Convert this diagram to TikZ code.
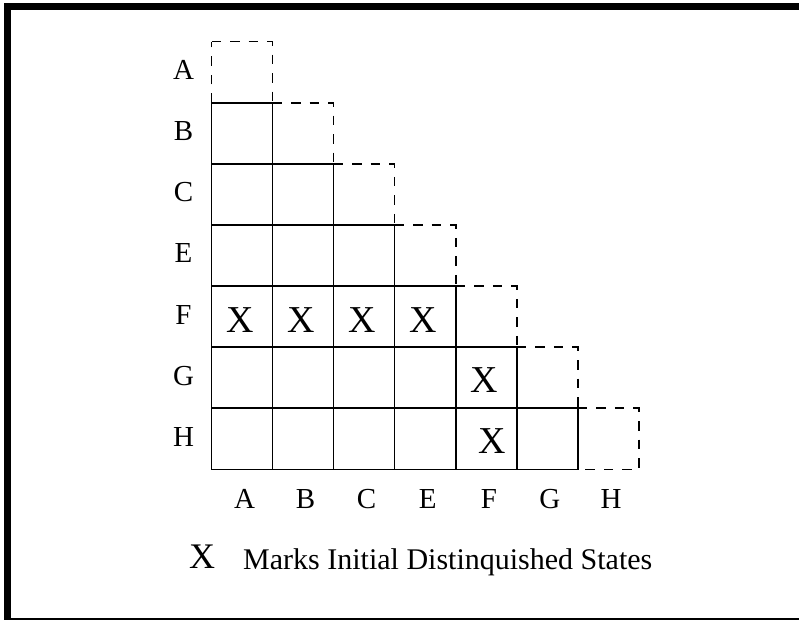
\documentclass[tikz,border=0pt]{standalone}
\usepackage{fontspec}
\setmainfont{Liberation Serif}
\newcommand{\lblsize}{\fontsize{29}{29}\selectfont}

\begin{document}
\begin{tikzpicture}[
  x=1pt, y=-1pt,
  lab/.style={font=\lblsize, inner sep=0pt},
  xmark/.style={font=\fontsize{38}{38}\selectfont, inner sep=0pt},
  cell/.style={line width=1.5pt},
  diag/.style={line width=1.5pt, dash pattern=on 9.5pt off 9pt},
]
\useasboundingbox (0,0) rectangle (799,620);
% frame
\fill (4,3) rectangle (799,10);
\fill (4,3) rectangle (11,619.5);
\draw[line width=1.5pt] (4,619) -- (799,619);
% table
\begin{scope}[shift={(211.5pt,-41.7pt)}, x=61.08pt, y=-61.08pt]
\foreach \i in {1,...,6}
  \foreach \j in {1,...,\i}
    \draw[cell] (\j-1,\i) rectangle ++(1,1);
\foreach \i in {0,...,5}
  \draw[diag] (\i,\i) -- (\i+1,\i) -- (\i+1,\i+1);
\draw[diag] (0,1) -- (0,0);
\draw[diag] (6,6) -- (7,6) -- (7,7) -- (6,7);
\end{scope}
% state labels
\foreach \s [count=\i from 0] in {A,B,C,E,F,G,H}
  \node[lab] (row\s) at (183.5, {70.2+61.08*\i}) {\s};
\foreach \s [count=\j from 0] in {A,B,C,E,F,G,H}
  \node[lab] (col\s) at ({244.5+61.08*\j}, 499) {\s};
% distinguished pairs
\node[xmark] (xFA) at (240,319.7) {X};
\node[xmark] (xFB) at (301,319.7) {X};
\node[xmark] (xFC) at (362,319.7) {X};
\node[xmark] (xFE) at (423,319.7) {X};
\node[xmark] (xGF) at (484.5,380) {X};
\node[xmark] (xHF) at (492,441) {X};
% key
\node[font=\fontsize{36}{36}\selectfont, inner sep=0pt] (keyX) at (202,557) {X};
\node[font=\fontsize{30}{30}\selectfont, inner sep=0pt, anchor=base west] (keytext) at (243,569.3) {Marks Initial Distinquished States};
\end{tikzpicture}
\end{document}
